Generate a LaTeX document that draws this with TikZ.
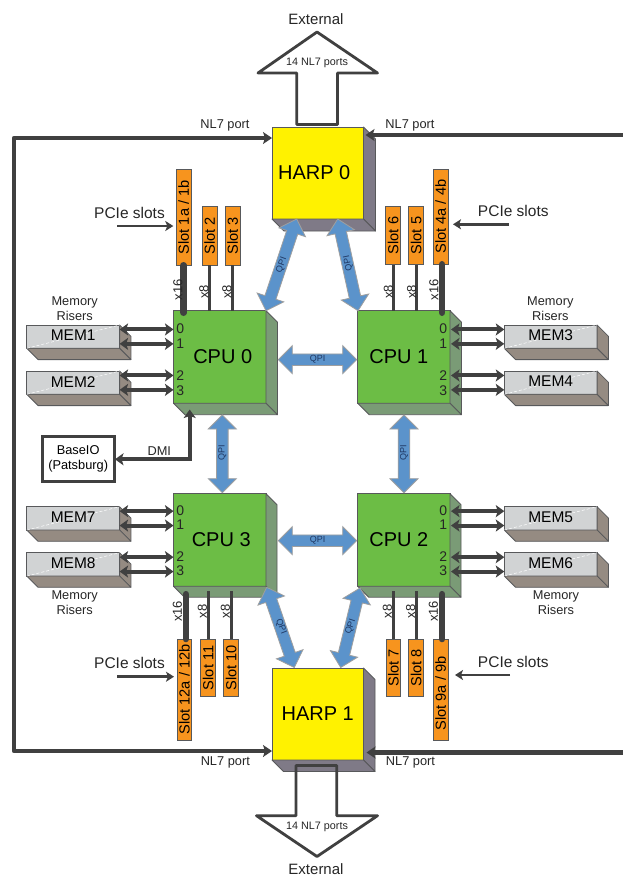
\documentclass[tikz,border=0pt]{standalone}
\usepackage{fontspec}
\setmainfont{Liberation Sans}
\usetikzlibrary{arrows.meta,calc}
\definecolor{dk}{HTML}{404040}
\definecolor{edge}{HTML}{58595B}
\definecolor{harpf}{HTML}{FFF200}
\definecolor{harps}{HTML}{7F7A87}
\definecolor{cpuf}{HTML}{6CBD45}
\definecolor{cpus}{HTML}{7A9B76}
\definecolor{memf}{HTML}{D1D3D4}
\definecolor{mems}{HTML}{958B82}
\definecolor{slotf}{HTML}{F7941E}
\definecolor{qpif}{HTML}{5B93CB}
\definecolor{qpit}{HTML}{1F3864}
\newcommand{\fs}[1]{\fontsize{#1}{#1}\selectfont}
\tikzset{
  x=1pt,y=-1pt,
  box/.style={anchor=north west,inner sep=0pt,outer sep=0pt,align=center},
  harpbox/.style={box,draw=edge,line width=.9pt,fill=harpf,font=\fs{20}},
  cpubox/.style={box,draw=edge,line width=.9pt,fill=cpuf,font=\fs{20}},
  membox/.style={box,draw=edge,line width=.8pt,fill=memf},
  slotbox/.style={box,draw=edge,line width=.8pt,fill=slotf,minimum width=14.7pt,font=\fs{14.6}},
  side/.style={draw=edge,line width=.8pt,line join=round},
  memlink/.style={draw=dk,line width=4pt,{Stealth[length=8.5pt,width=12pt,inset=2pt]}-{Stealth[length=8.5pt,width=12pt,inset=2pt]}},
  pointer/.style={draw=dk,line width=2.6pt,-{Stealth[length=8pt,width=10pt,inset=2pt]}},
  portline/.style={draw=dk,line width=4.4pt,line join=round,{Stealth[length=9pt,width=12pt,inset=2pt]}-{Stealth[length=9pt,width=12pt,inset=2pt]}},
  portin/.style={draw=dk,line width=4.4pt,-{Stealth[length=9pt,width=12pt,inset=2pt]}},
  widelink/.style={draw=dk,line width=6.6pt,line cap=round},
  thinlink/.style={draw=dk,line width=3pt},
  qpiarrow/.style={draw=gray!75,fill=qpif,line width=.8pt,line join=miter},
  bigarrow/.style={draw=dk,line width=2.8pt,line join=round},
  qpilabel/.style={font=\fs{9},text=qpit,inner sep=0pt},
  lab/.style={inner sep=0pt,align=center,text=black!85},
  portnum/.style={lab,font=\fs{14}},
  small/.style={lab,font=\fs{13},rotate=90},
  big/.style={lab,font=\fs{15.5}},
  midlab/.style={lab,font=\fs{12.8}},
}
% name, x, y, w, h, depth, style, side colour, text
\newcommand{\cubeb}[9]{%
  \node[#7,minimum width=#4pt,minimum height=#5pt] (#1) at (#2,#3) {#9};
  \draw[side,fill=#8] (#1.north east) -- ++(#6,#6) -- ($(#1.south east)+(#6,#6)$) -- (#1.south east) -- cycle;
  \draw[side,fill=#8] (#1.south west) -- ++(#6,#6) -- ($(#1.south east)+(#6,#6)$) -- (#1.south east) -- cycle;
}
\newcommand{\memb}[4]{%
  \cubeb{#1}{#2}{#3}{92.8}{23.3}{11.3}{membox}{mems}{}
  \draw[white,line width=.5pt,densely dashed] (#1.south west) -- (#1.north east);
  \node[font=\fs{15.5},inner sep=0pt] (#1t) at ([yshift=1pt]#1.center) {#4};
}
\newcommand{\qpilink}[2]{%
  \draw[qpiarrow] (#1)
    -- ($(#1)!14pt!(#2)!14pt!90:(#2)$)
    -- ($(#1)!14pt!(#2)!5.8pt!90:(#2)$)
    -- ($(#2)!14pt!(#1)!5.8pt!-90:(#1)$)
    -- ($(#2)!14pt!(#1)!14pt!-90:(#1)$)
    -- (#2)
    -- ($(#2)!14pt!(#1)!14pt!90:(#1)$)
    -- ($(#2)!14pt!(#1)!5.8pt!90:(#1)$)
    -- ($(#1)!14pt!(#2)!5.8pt!-90:(#2)$)
    -- ($(#1)!14pt!(#2)!14pt!-90:(#2)$)
    -- cycle;
}
\begin{document}
\begin{tikzpicture}
\useasboundingbox (0,0) rectangle (623,876);
\fill[white] (0,0) rectangle (623,876);

% big external arrows, fill below the HARP bodies
\coordinate (ea1) at (317,32);   \coordinate (ea2) at (377.5,73);
\coordinate (ea3) at (337.5,73); \coordinate (ea4) at (337.5,124.5);
\coordinate (ea5) at (296.7,124.5); \coordinate (ea6) at (296.7,73);
\coordinate (ea7) at (258,73);
\coordinate (eb1) at (317,856.5); \coordinate (eb2) at (377.5,815.7);
\coordinate (eb3) at (336.7,815.7); \coordinate (eb4) at (336.7,765.5);
\coordinate (eb5) at (296,765.5); \coordinate (eb6) at (296,815.7);
\coordinate (eb7) at (256.5,815.7);
\fill[white] (eb1) -- (eb2) -- (eb3) -- (eb4) -- (eb5) -- (eb6) -- (eb7) -- cycle;

% HARP
\cubeb{harp0}{272}{127}{91.5}{92}{12}{harpbox}{harps}{HARP 0\kern7pt}
\cubeb{harp1}{272}{668}{91.5}{92}{11.5}{harpbox}{harps}{HARP 1}

\draw[bigarrow] (ea1) -- (ea2) -- (ea3) -- (ea4) -- (ea5) -- (ea6) -- (ea7) -- cycle;
\draw[bigarrow] (eb1) -- (eb2) -- (eb3) -- (eb4) -- (eb5) -- (eb6) -- (eb7) -- cycle;

% CPUs
\cubeb{cpu0}{173.5}{310.7}{92.5}{92.5}{11.5}{cpubox}{cpus}{\kern6pt CPU 0}
\cubeb{cpu1}{357.7}{310.7}{92.3}{92.5}{11.5}{cpubox}{cpus}{CPU 1\kern10pt}
\cubeb{cpu3}{173.5}{493.7}{92.5}{92.5}{11}{cpubox}{cpus}{\kern3pt CPU 3}
\cubeb{cpu2}{357.7}{493.7}{92.3}{92.5}{11}{cpubox}{cpus}{CPU 2\kern10pt}

% Memory
\memb{mem1}{26.8}{325}{MEM1}
\memb{mem2}{26.8}{371}{MEM2}
\memb{mem7}{26.8}{506.7}{MEM7}
\memb{mem8}{26.8}{552.7}{MEM8}
\memb{mem3}{504.3}{325}{MEM3}
\memb{mem4}{504.3}{371}{MEM4}
\memb{mem5}{504.3}{506.7}{MEM5}
\memb{mem6}{504.3}{552.7}{MEM6}

\foreach \m/\c in {mem1/cpu0,mem2/cpu0,mem7/cpu3,mem8/cpu3}{
  \coordinate (a) at ([yshift=7.2pt]\m.east);
  \coordinate (b) at ([yshift=-7.2pt]\m.east);
  \draw[memlink] (a) -- (a -| \c.west);
  \draw[memlink] (b) -- (b -| \c.west);
}
\foreach \m/\c in {mem3/cpu1,mem4/cpu1,mem5/cpu2,mem6/cpu2}{
  \coordinate (a) at ([yshift=7.2pt]\m.west);
  \coordinate (b) at ([yshift=-7.2pt]\m.west);
  \draw[memlink] (a) -- ([xshift=1pt]a -| \c.east);
  \draw[memlink] (b) -- ([xshift=1pt]b -| \c.east);
}

% port numbers
\foreach \i/\y in {0/329,1/343.7,2/375.5,3/390.3}{
  \node[portnum] (pa\i) at (180.3,\y) {\i};
  \node[portnum] (pb\i) at (443.3,\y) {\i};
}
\foreach \i/\y in {0/510.5,1/525,2/556.5,3/571}{
  \node[portnum] (pc\i) at (180.3,\y) {\i};
  \node[portnum] (pd\i) at (443.3,\y) {\i};
}

% Slots
\node[slotbox,minimum height=96pt] (s1) at (176.3,169.3) {\rotatebox{90}{Slot 1a / 1b}};
\node[slotbox,minimum height=58.3pt] (s2) at (202.3,206.7) {\rotatebox{90}{Slot 2}};
\node[slotbox,minimum height=58.3pt] (s3) at (225.3,206.7) {\rotatebox{90}{Slot 3}};
\node[slotbox,minimum height=58.3pt] (s6) at (385.7,206.3) {\rotatebox{90}{Slot 6}};
\node[slotbox,minimum height=58.3pt] (s5) at (408.7,206.3) {\rotatebox{90}{Slot 5}};
\node[slotbox,minimum height=95.3pt] (s4) at (433.3,169) {\rotatebox{90}{Slot 4a / 4b}};
\node[slotbox,minimum height=101pt] (s12) at (177,639) {\rotatebox{90}{Slot 12a / 12b}};
\node[slotbox,minimum height=57.7pt] (s11) at (200.8,639) {\rotatebox{90}{Slot 11}};
\node[slotbox,minimum height=57.7pt] (s10) at (223.8,639) {\rotatebox{90}{Slot 10}};
\node[slotbox,minimum height=57.7pt] (s7) at (386,639) {\rotatebox{90}{Slot 7}};
\node[slotbox,minimum height=57.7pt] (s8) at (408.8,639) {\rotatebox{90}{Slot 8}};
\node[slotbox,minimum height=101pt] (s9) at (433.3,639) {\rotatebox{90}{Slot 9a / 9b\kern8pt}};

\draw[widelink] (s1.south) -- ([yshift=-2pt]s1.south |- cpu0.north);
\draw[thinlink] (s2.south) -- (s2.south |- cpu0.north);
\draw[thinlink] (s3.south) -- (s3.south |- cpu0.north);
\draw[widelink] ([xshift=1.5pt]s4.south) -- ([xshift=1.5pt,yshift=-2pt]s4.south |- cpu1.north);
\draw[thinlink] (s5.south) -- (s5.south |- cpu1.north);
\draw[thinlink] (s6.south) -- (s6.south |- cpu1.north);
\draw[widelink] ([xshift=1.5pt]s12.north) -- ([xshift=1.5pt,yshift=-8pt]s12.north |- cpu3.south);
\draw[thinlink] (s11.north) -- ([yshift=-5pt]s11.north |- cpu3.south);
\draw[thinlink] (s10.north) -- ([yshift=-5pt]s10.north |- cpu3.south);
\draw[widelink] ([xshift=1.5pt]s9.north) -- ([xshift=1.5pt,yshift=-8pt]s9.north |- cpu2.south);
\draw[thinlink] (s8.north) -- ([yshift=-5pt]s8.north |- cpu2.south);
\draw[thinlink] (s7.north) -- ([yshift=-5pt]s7.north |- cpu2.south);

% link width labels
\node[small] (w1) at (178,290) {x16};
\node[small] (w2) at (204,292) {x8};
\node[small] (w3) at (227,292) {x8};
\node[small] (w4) at (434,290) {x16};
\node[small] (w5) at (388.3,292) {x8};
\node[small] (w6) at (411.7,292) {x8};
\node[small] (w7) at (177.3,611.5) {x16};
\node[small] (w8) at (202.3,611.5) {x8};
\node[small] (w9) at (225.3,611.5) {x8};
\node[small] (w10) at (433.3,611.5) {x16};
\node[small] (w11) at (387.3,611.5) {x8};
\node[small] (w12) at (410.7,611.5) {x8};

% QPI links
\coordinate (qh0a) at (296.7,219);   \coordinate (qc0a) at (266,310.7);
\coordinate (qh0b) at (337.7,219);   \coordinate (qc1a) at (358,310.7);
\coordinate (qh1a) at (294.3,667.5); \coordinate (qc3a) at (266.7,587.3);
\coordinate (qh1b) at (340.7,667.5); \coordinate (qc2a) at (360,588);
\coordinate (q01a) at (278.3,359.7); \coordinate (q01b) at (356.7,359.7);
\coordinate (q32a) at (278.3,540.7); \coordinate (q32b) at (356.7,540.7);
\coordinate (q03a) at (222.3,415);   \coordinate (q03b) at (222.3,492.7);
\coordinate (q12a) at (404,415);     \coordinate (q12b) at (404,492.7);
\qpilink{qh0a}{qc0a}
\qpilink{qh0b}{qc1a}
\qpilink{qh1a}{qc3a}
\qpilink{qh1b}{qc2a}
\qpilink{q01a}{q01b}
\qpilink{q32a}{q32b}
\qpilink{q03a}{q03b}
\qpilink{q12a}{q12b}
\node[qpilabel,rotate=70] (ql1) at (281.7,265) {QPI};
\node[qpilabel,rotate=102] (ql2) at (348.3,263) {QPI};
\node[qpilabel,rotate=-68] (ql3) at (281,626.7) {QPI};
\node[qpilabel,rotate=72] (ql4) at (350.7,626.7) {QPI};
\node[qpilabel] (ql5) at (317.5,359.7) {QPI};
\node[qpilabel] (ql6) at (317.5,540.7) {QPI};
\node[qpilabel,rotate=90] (ql7) at (222.3,453) {QPI};
\node[qpilabel,rotate=90] (ql8) at (404,453) {QPI};

% NL7 ports
\coordinate (tl) at (14,138); \coordinate (bl) at (14,751);
\coordinate (rt) at (623,135); \coordinate (rb) at (623,752.5);
\coordinate (h0l) at ([yshift=-11pt]harp0.north west);
\coordinate (h1l) at ([yshift=9pt]harp1.south west);
\coordinate (h0r) at ([xshift=2pt,yshift=-8pt]harp0.north east);
\coordinate (h1r) at ([xshift=3pt,yshift=7.5pt]harp1.south east);
\draw[portline] (h0l) -- (tl) -- (bl) -- (h1l);
\draw[portin] (rt) -- (h0r);
\draw[portin] (rb) -- (h1r);
\node[midlab] (n1) at (225,125) {NL7 port};
\node[midlab] (n2) at (410,125) {NL7 port};
\node[midlab] (n3) at (225.3,762.5) {NL7 port};
\node[midlab] (n4) at (410.5,762.5) {NL7 port};

\node[lab,font=\fs{15}] (e1) at (316,19) {External};
\node[lab,font=\fs{15}] (e2) at (316,869) {External};
\node[lab,font=\fs{10.8}] (e3) at (317,63) {14 NL7 ports};
\node[lab,font=\fs{10.8}] (e4) at (317,827) {14 NL7 ports};

% PCIe callouts
\node[big] (p1) at (129.5,212.7) {PCIe slots};
\node[big] (p2) at (513.3,210.7) {PCIe slots};
\node[big] (p3) at (129.5,662.7) {PCIe slots};
\node[big] (p4) at (513.3,661.7) {PCIe slots};
\coordinate (pa1) at (117.3,226);  \coordinate (pa2) at (s1.west |- pa1);
\coordinate (pb1) at (508.7,224.3); \coordinate (pb2) at ([xshift=5pt]s4.east |- pb1);
\coordinate (pc1) at (117.3,676.7); \coordinate (pc2) at (s12.west |- pc1);
\coordinate (pd1) at (510,675);    \coordinate (pd2) at ([xshift=7pt]s9.east |- pd1);
\draw[pointer] (pa1) -- ([xshift=-3pt]pa2);
\draw[pointer] (pb1) -- (pb2);
\draw[pointer] (pc1) -- ([xshift=-3pt]pc2);
\draw[pointer] (pd1) -- (pd2);

% Memory risers
\node[midlab] (r1) at (74.7,308.3) {Memory\\[2.2pt]Risers};
\node[midlab] (r2) at (550.3,308.3) {Memory\\[2.2pt]Risers};
\node[midlab] (r3) at (74.7,603) {Memory\\[2.2pt]Risers};
\node[midlab] (r4) at (556,603) {Memory\\[2.2pt]Risers};

% BaseIO
\node[box,draw=dk,line width=3pt,fill=white,minimum width=71.7pt,minimum height=44.3pt,font=\fs{12.8}] (base) at (42.3,436.7) {BaseIO\\[2.2pt](Patsburg)};
\coordinate (dmic) at (189.7,459.3);
\coordinate (dmit) at ([yshift=-6.3pt]cpu0.south -| dmic);
\draw[memlink,line join=miter] (dmit) -- (dmic) -- ([xshift=1pt]base.east |- dmic);
\node[midlab] (dmi) at (159.3,450.7) {DMI};
\end{tikzpicture}
\end{document}
